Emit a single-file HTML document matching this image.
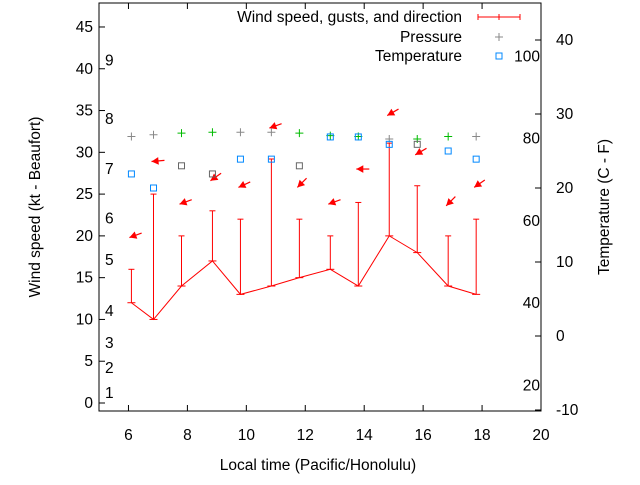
<!DOCTYPE html>
<html><head><meta charset="utf-8"><style>
body{margin:0;background:#fff}
svg{font-family:"Liberation Sans",sans-serif;font-size:15.5px}
</style></head><body>
<svg id="chart" width="640" height="480" xmlns="http://www.w3.org/2000/svg"></svg>
<script>
const times=[6.1,6.85,7.8,8.85,9.8,10.85,11.8,12.85,13.8,14.85,15.8,16.85,17.8];
const windKt=[12,10,14,17,13,14,15,16,14,20,18,14,13];
const gustKt=[16,25,20,23,22,29.2,22,20,24,31.1,26,20,22];
const arrowLevel=[19.8,28.9,23.8,26.6,25.8,32.9,25.8,23.8,28,34.4,29.7,23.6,25.8];
const arrowDir=[200,185,200,215,205,200,225,200,180,210,210,225,215];
const pressureLvl=[31.9,32.1,32.3,32.4,32.4,32.4,32.3,32.0,31.9,31.6,31.6,31.9,31.9];
const pressureGreen=[0,0,1,1,0,0,1,1,1,0,1,1,0];
const tempC=[21.9,20.0,23.0,21.9,23.9,23.9,23.0,26.9,26.9,25.9,25.9,25.0,23.9];
const tempGrey=[0,0,1,1,0,0,1,0,0,0,1,0,0];
const xTicks=[6,8,10,12,14,16,18,20];
const yTicks=[0,5,10,15,20,25,30,35,40,45];
const cTicks=[-10,0,10,20,30,40];
const fTicks=[20,40,60,80,100];
const bftLabels=[1,2,3,4,5,6,7,8,9];
const bftPos=[1.2,4.2,7.2,11,17.1,22.1,28,34,41];

const L=99,R=541,T=3,B=411;
const X=v=>L+(v-5)*(R-L)/15;
const Y=v=>403-v*8.356;
const YC=c=>410-(c+10)*7.4;
const svg=document.getElementById('chart');
const NS='http://www.w3.org/2000/svg';
function mk(tag,attrs,name,parent){const e=document.createElementNS(NS,tag);for(const k in attrs)e.setAttribute(k,attrs[k]);


(parent||svg).appendChild(e);return e;}
function txt(x,y,s,name,anchor,extra){const t=mk('text',Object.assign({x:x,y:y,'text-anchor':anchor||'middle',fill:'#000'},extra||{}),name);t.textContent=s;return t;}

mk('rect',{x:L,y:T,width:R-L,height:B-T,fill:'none',stroke:'#000','stroke-width':1},'plot-frame');
xTicks.forEach(v=>{const x=X(v);
mk('line',{x1:x,y1:B,x2:x,y2:B-6,stroke:'#000'},'x-tick');
mk('line',{x1:x,y1:T,x2:x,y2:T+6,stroke:'#000'},'x-tick-top');
txt(x,440,v,'x-tick-label');});
yTicks.forEach(v=>{const y=Y(v);
mk('line',{x1:L,y1:y,x2:L+6,y2:y,stroke:'#000'},'y-tick');
txt(L-6,y+5,v,'y-tick-label','end');});
cTicks.forEach(v=>{const y=YC(v);
mk('line',{x1:R,y1:y,x2:R-6,y2:y,stroke:'#000'},'y2-tick');
txt(R+15,y+5,v,'y2-tick-label','start');});
fTicks.forEach(v=>{const y=YC((v-32)*5/9);txt(R-1,y+5,v,'fahrenheit-label','end');});
bftLabels.forEach((v,i)=>txt(105,Y(bftPos[i])+5,v,'beaufort-label','start'));

txt(318,470,'Local time (Pacific/Honolulu)','x-axis-title');
txt(40,207,'Wind speed (kt - Beaufort)','y-axis-title','middle',{transform:'rotate(-90 40 207)'});
txt(609,207,'Temperature (C - F)','y2-axis-title','middle',{transform:'rotate(-90 609 207)'});

times.forEach((t,i)=>{const x=X(t);
mk('line',{x1:x,y1:Y(windKt[i]),x2:x,y2:Y(gustKt[i]),stroke:'#f00'},'gust-bar');
mk('line',{x1:x-3,y1:Y(gustKt[i]),x2:x+3,y2:Y(gustKt[i]),stroke:'#f00'},'gust-cap');
mk('line',{x1:x-4,y1:Y(windKt[i]),x2:x+4,y2:Y(windKt[i]),stroke:'#f00'},'wind-point');});
mk('polyline',{points:times.map((t,i)=>X(t)+','+Y(windKt[i])).join(' '),fill:'none',stroke:'#f00'},'wind-line');

times.forEach((t,i)=>{const a=arrowDir[i]*Math.PI/180;const tx=X(t)-2,ty=Y(arrowLevel[i]);
const len=13;const sx=tx-len*Math.cos(a),sy=ty+len*Math.sin(a);
mk('line',{x1:sx,y1:sy,x2:tx,y2:ty,stroke:'#f00','stroke-width':1.2},'wind-direction-arrow');
const h=8,w=0.5;const p1=[tx+h*Math.cos(a+Math.PI-w),ty-h*Math.sin(a+Math.PI-w)],p2=[tx+h*Math.cos(a+Math.PI+w),ty-h*Math.sin(a+Math.PI+w)];
mk('polygon',{points:tx+','+ty+' '+p1.join(',')+' '+p2.join(','),fill:'#f00'},'wind-arrow-head');});

times.forEach((t,i)=>{const x=X(t),y=Y(pressureLvl[i]);const c=pressureGreen[i]?'#0b0':'#888';
mk('path',{d:`M${x-4},${y}H${x+4}M${x},${y-4}V${y+4}`,stroke:c},'pressure-point');});
times.forEach((t,i)=>{const x=X(t),y=YC(tempC[i]);const c=tempGrey[i]?'#666':'#08f';
mk('rect',{x:x-3,y:y-3,width:6,height:6,fill:'none',stroke:c},'temperature-point');});

txt(462,22,'Wind speed, gusts, and direction','legend-wind-label','end');
mk('path',{d:'M478,17H520M478,14V20M520,14V20M499,14V20',stroke:'#f00'},'legend-wind-symbol');
txt(462,42,'Pressure','legend-pressure-label','end');
mk('path',{d:'M495,37H503M499,33V41',stroke:'#888'},'legend-pressure-symbol');
txt(462,61,'Temperature','legend-temperature-label','end');
mk('rect',{x:496,y:53,width:6,height:6,fill:'none',stroke:'#08f'},'legend-temperature-symbol');
</script>
</body></html>
